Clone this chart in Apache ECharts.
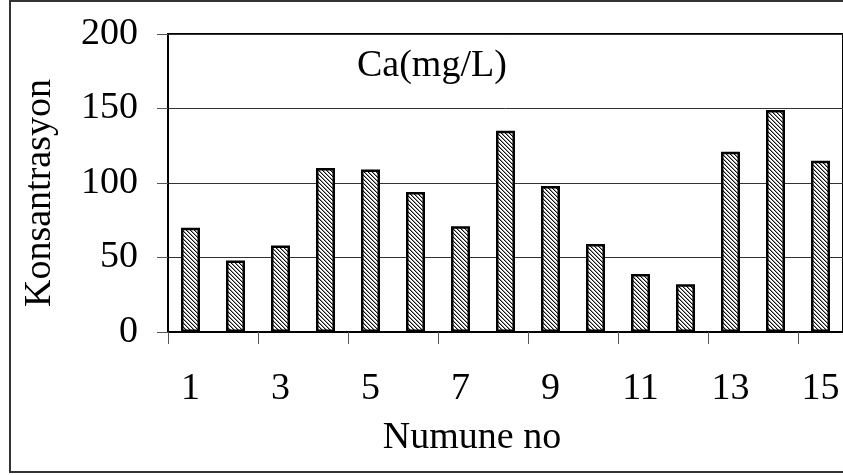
<!DOCTYPE html>
<html>
<head>
<meta charset="utf-8">
<script src="https://cdn.jsdelivr.net/npm/echarts@6/dist/echarts.min.js"></script>
<style>
  html, body { margin: 0; padding: 0; background: #fff; }
  #chart { width: 843px; height: 475px; }
</style>
</head>
<body>
<div id="chart"></div>
<script>
// sample numbers and Ca values
var samples = ['1','2','3','4','5','6','7','8','9','10','11','12','13','14','15'];
var caValues = [70, 48, 58, 110, 109, 94, 71, 135, 98, 59, 39, 32, 121, 149, 115];
var yTicks = [0, 50, 100, 150, 200];

var font = '"Liberation Serif", "Times New Roman", serif';

// hatch fill like the old excel bars
function hatch() {
    var c = document.createElement('canvas');
    c.width = 4; c.height = 4;
    var ctx = c.getContext('2d');
    ctx.fillStyle = '#fff';
    ctx.fillRect(0, 0, 4, 4);
    for (var i = 0; i < 4; i++) {
        ctx.fillStyle = '#111';
        ctx.fillRect(i, i, 1, 1);
        ctx.fillStyle = '#999';
        ctx.fillRect((i + 1) % 4, i, 1, 1);
    }
    return c;
}

var chart = echarts.init(document.getElementById('chart'));
var option = {
    animation: false,
    backgroundColor: '#fff',
    title: {
        text: 'Ca(mg/L)',
        left: 352,
        top: 42,
        textStyle: { fontFamily: font, fontSize: 38, fontWeight: 'normal', color: '#000' }
    },
    grid: {
        left: 168,
        top: 34,
        width: 683,
        height: 298,
        show: true,
        borderColor: '#000',
        borderWidth: 2
    },
    xAxis: {
        type: 'category',
        data: samples,
        axisLine: { lineStyle: { color: '#000', width: 2 } },
        axisTick: { show: true, length: 12, lineStyle: { color: '#555' } },
        axisLabel: { interval: 1, margin: 38, fontFamily: font, fontSize: 38, color: '#000' }
    },
    yAxis: {
        type: 'value',
        min: yTicks[0],
        max: yTicks[yTicks.length - 1],
        interval: 50,
        axisLine: { show: true, lineStyle: { color: '#000', width: 2 } },
        axisTick: { show: true, length: 11, lineStyle: { color: '#555' } },
        axisLabel: { margin: 30, fontFamily: font, fontSize: 38, color: '#000' },
        splitLine: { lineStyle: { color: '#333', width: 1 } }
    },
    series: [{
        type: 'bar',
        data: caValues,
        barWidth: 19,
        itemStyle: {
            color: { image: hatch(), repeat: 'repeat' },
            borderColor: '#000',
            borderWidth: 2.5
        }
    }],
    graphic: [{
        type: 'rect',
        shape: { x: 10, y: 1, width: 900, height: 471 },
        style: { fill: null, stroke: '#333', lineWidth: 2 },
        silent: true
    }, {
        // axis titles placed like the excel original
        type: 'text',
        x: 472, y: 438,
        style: { text: 'Numune no', font: '38px ' + font, fill: '#000', align: 'center', verticalAlign: 'middle' },
        silent: true
    }, {
        type: 'text',
        x: 40, y: 193,
        rotation: Math.PI / 2,
        style: { text: 'Konsantrasyon', font: '38px ' + font, fill: '#000', align: 'center', verticalAlign: 'middle' },
        silent: true
    }]
};
chart.setOption(option);
</script>
</body>
</html>
